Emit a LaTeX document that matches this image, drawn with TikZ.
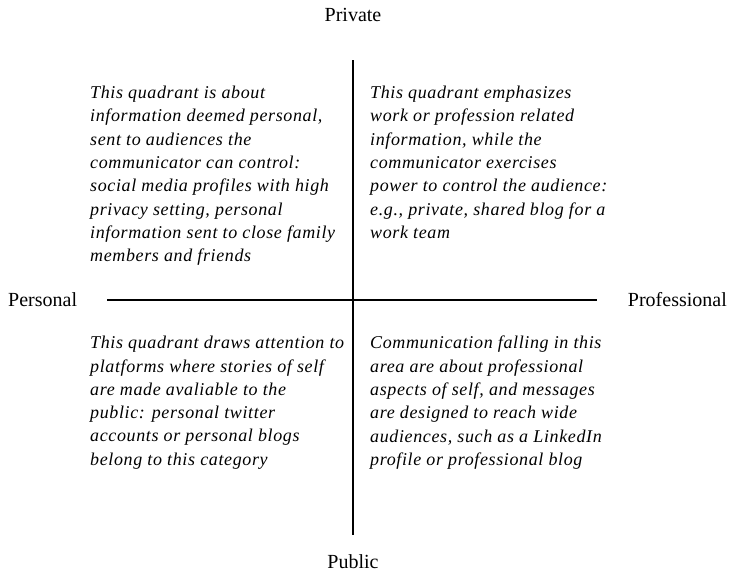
\documentclass[tikz,border=0pt]{standalone}
\usepackage{fontspec}
\setmainfont{Liberation Serif}
\newfontfamily\quadfont[LetterSpace=3.5]{Liberation Serif}
\tikzset{
	axis label/.style = {font=\fontsize{20}{24}\selectfont, inner sep=0pt},
	quadrant/.style = {font=\fontsize{18}{23.3}\selectfont\quadfont\itshape, align=left, anchor=north west, inner sep=0pt},
	axis/.style = {line width=1.5pt}
}
\begin{document}
\begin{tikzpicture}[x=1pt, y=-1pt]
	\useasboundingbox (0,0) rectangle (730,574);
	% the two axes
	\coordinate (top) at (353,60);
	\coordinate (bottom) at (353,535);
	\coordinate (left) at (107,300);
	\coordinate (right) at (597,300);
	\draw [axis] (top) -- (bottom);
	\draw [axis] (left) -- (right);
	% axis ends
	\node [axis label] (private) at (353,15) {Private};
	\node [axis label] (public) at (353,562) {Public};
	\node [axis label, anchor=west] (personal) at (8,300) {Personal};
	\node [axis label, anchor=east] (professional) at (727,300) {Professional};
	% the four quadrants
	\node [quadrant] (perspriv) at (90,86) {This quadrant is about\\
		information deemed personal,\\
		sent to audiences the\\
		communicator can control:\\
		social media profiles with high\\
		privacy setting, personal\\
		information sent to close family\\
		members and friends};
	\node [quadrant] (profpriv) at (370,86) {This quadrant emphasizes\\
		work or profession related\\
		information, while the\\
		communicator exercises\\
		power to control the audience:\\
		e.g., private, shared blog for a\\
		work team};
	\node [quadrant] (perspub) at (90,336) {This quadrant draws attention to\\
		platforms where stories of self\\
		are made avaliable to the\\
		public: personal twitter\\
		accounts or personal blogs\\
		belong to this category};
	\node [quadrant] (profpub) at (370,336) {Communication falling in this\\
		area are about professional\\
		aspects of self, and messages\\
		are designed to reach wide\\
		audiences, such as a LinkedIn\\
		profile or professional blog};
\end{tikzpicture}
\end{document}
